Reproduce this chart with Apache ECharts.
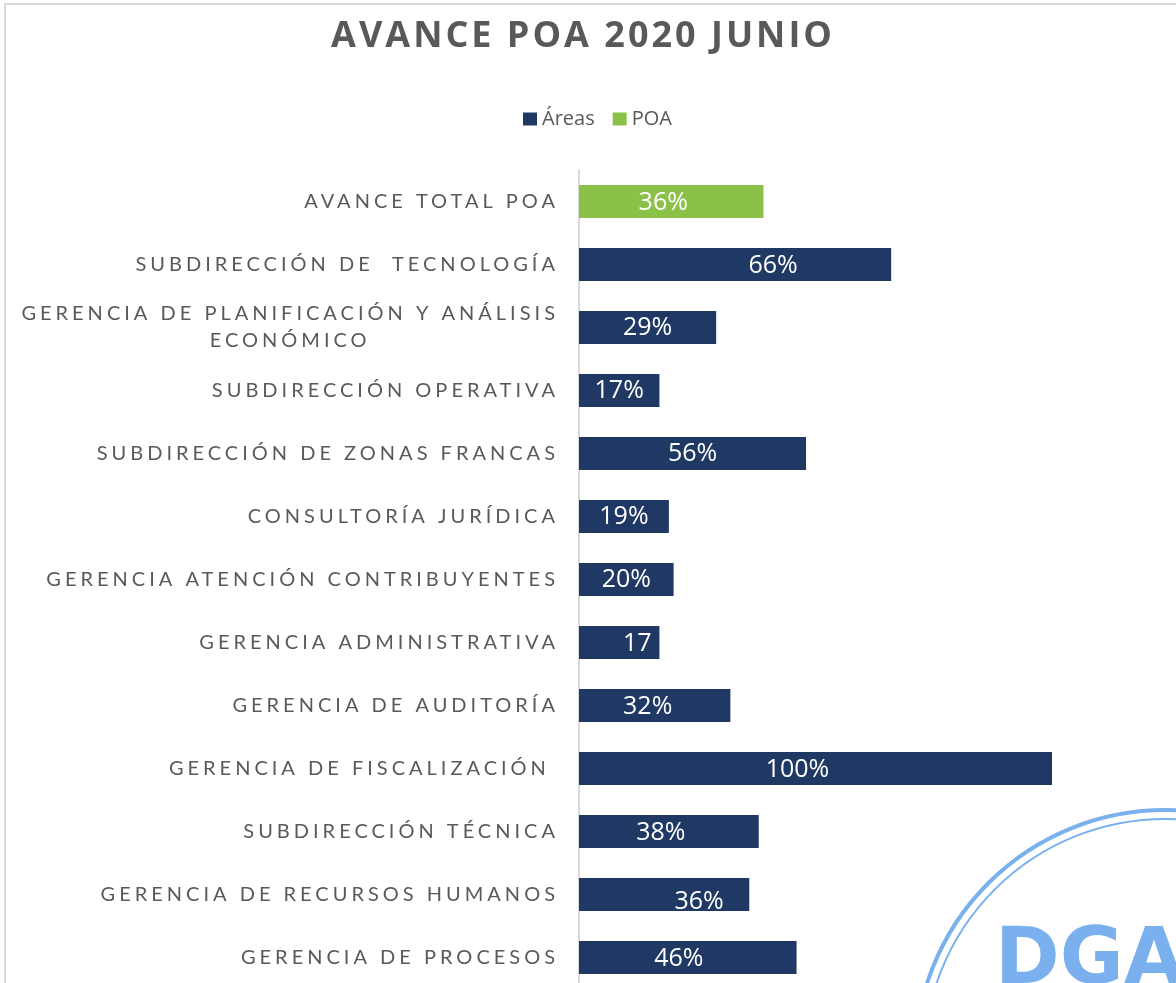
<!DOCTYPE html>
<html>
<head>
<meta charset="utf-8">
<title>Avance POA 2020 Junio</title>
<script src="https://cdn.jsdelivr.net/npm/echarts@6/dist/echarts.min.js"></script>
<style>
  html, body { margin: 0; padding: 0; background: #fff; }
  #chart { width: 1176px; height: 983px; }
</style>
</head>
<body>
<div id="chart"></div>
<script>
// categorias de arriba hacia abajo
const categories = [
  'AVANCE TOTAL POA',
  'SUBDIRECCIÓN DE  TECNOLOGÍA',
  'GERENCIA DE PLANIFICACIÓN Y ANÁLISIS\nECONÓMICO',
  'SUBDIRECCIÓN OPERATIVA',
  'SUBDIRECCIÓN DE ZONAS FRANCAS',
  'CONSULTORÍA JURÍDICA',
  'GERENCIA ATENCIÓN CONTRIBUYENTES',
  'GERENCIA ADMINISTRATIVA',
  'GERENCIA DE AUDITORÍA',
  'GERENCIA DE FISCALIZACIÓN ',
  'SUBDIRECCIÓN TÉCNICA',
  'GERENCIA DE RECURSOS HUMANOS',
  'GERENCIA DE PROCESOS'
]
// largo de las barras
const poaValues = [39, '-', '-', '-', '-', '-', '-', '-', '-', '-', '-', '-', '-']
const areaValues = ['-', 66, 29, 17, 48, 19, 20, 17, 32, 100, 38, 36, 46]
// textos de las etiquetas tal como aparecen
const poaLabels = ['36%']
const areaLabels = ['', '66%', '29%', '17%', '56%', '19%', '20%', '17', '32%', '100%', '38%', '36%', '46%']

// desplazamiento de algunas etiquetas (estilo)
const labelShift = {0: [-8, 1], 1: [38, 1], 7: [18, 1], 8: [-7, 1], 9: [-18, 1], 10: [-8, 1], 11: [35, 7], 12: [-9, 1]}

// espaciado de letras: canvas soporta letterSpacing, echarts no
const spacingFor = font => /Lato/.test(font) ? '4px'
  : (/Open Sans/.test(font) && /bold|700/.test(font) ? '3px' : '0px')
const proto = CanvasRenderingContext2D.prototype
const origFill = proto.fillText
const origMeasure = proto.measureText
proto.fillText = function (...a) {
  this.letterSpacing = spacingFor(this.font)
  return origFill.apply(this, a)
}
proto.measureText = function (...a) {
  this.letterSpacing = spacingFor(this.font)
  return origMeasure.apply(this, a)
}

const chart = echarts.init(document.getElementById('chart'))

const withShift = (values, shift) => values.map((v, i) => {
  if (v === '-' || !shift[i]) return v
  return {value: v, label: {offset: shift[i]}}
})

chart.setOption({
  animation: false,
  backgroundColor: '#fff',
  title: {
    text: 'AVANCE POA 2020 JUNIO',
    left: 583,
    top: 17,
    padding: 0,
    textAlign: 'center',
    textStyle: {
      fontFamily: 'Open Sans',
      fontWeight: 'bold',
      fontSize: 36,
      color: '#595959'
    }
  },
  legend: {
    data: ['Áreas', 'POA'],
    left: 523,
    top: 109,
    padding: 0,
    icon: 'rect',
    itemWidth: 14,
    itemHeight: 13,
    itemGap: 18,
    textStyle: {fontFamily: 'Open Sans', fontSize: 20, color: '#595959'}
  },
  // el grafico original esta recortado abajo
  grid: {left: 579, top: 170, width: 473, height: 819, outerBoundsMode: 'none'},
  xAxis: {type: 'value', min: 0, max: 100, show: false},
  yAxis: {
    type: 'category',
    inverse: true,
    data: categories,
    axisLine: {show: true, lineStyle: {color: '#d9d9d9', width: 2}},
    axisTick: {show: false},
    splitLine: {show: false},
    axisLabel: {
      margin: 20,
      fontFamily: 'Lato',
      fontSize: 20,
      color: '#595959',
      lineHeight: 27,
      formatter: v => v.split('\n').map((s, i) => i === 0 ? s : '{c|' + s + '}').join('\n'),
      rich: {
        c: {align: 'center', fontFamily: 'Lato', fontSize: 20, color: '#595959', lineHeight: 27}
      }
    }
  },
  series: [
    {
      name: 'Áreas',
      type: 'bar',
      stack: 'avance',
      barWidth: 33,
      data: withShift(areaValues, labelShift),
      itemStyle: {color: '#203864'},
      label: {
        show: true,
        position: 'inside',
        color: '#fff',
        fontFamily: 'Open Sans',
        fontSize: 25,
        formatter: p => areaLabels[p.dataIndex]
      }
    },
    {
      name: 'POA',
      type: 'bar',
      stack: 'avance',
      barWidth: 33,
      data: withShift(poaValues, labelShift),
      itemStyle: {color: '#8CC149'},
      label: {
        show: true,
        position: 'inside',
        color: '#fff',
        fontFamily: 'Open Sans',
        fontSize: 25,
        formatter: p => poaLabels[p.dataIndex]
      }
    }
  ],
  graphic: [
    // marco del grafico
    {type: 'rect', shape: {x: 5, y: 4, width: 1300, height: 1100},
      style: {fill: 'none', stroke: '#d9d9d9', lineWidth: 2}, silent: true},
    // sello
    {type: 'circle', shape: {cx: 1165, cy: 1060, r: 250},
      style: {fill: 'none', stroke: '#7ab0ee', lineWidth: 4}, silent: true},
    {type: 'circle', shape: {cx: 1165, cy: 1060, r: 241},
      style: {fill: 'none', stroke: '#7ab0ee', lineWidth: 2}, silent: true},
    {type: 'text', left: 995, top: 924, silent: true,
      style: {text: 'DGA', fontFamily: 'DejaVu Sans', fontWeight: 'bold', fontSize: 78, fill: '#7ab0ee'}}
  ]
})

window.addEventListener('resize', () => chart.resize())
</script>
</body>
</html>
